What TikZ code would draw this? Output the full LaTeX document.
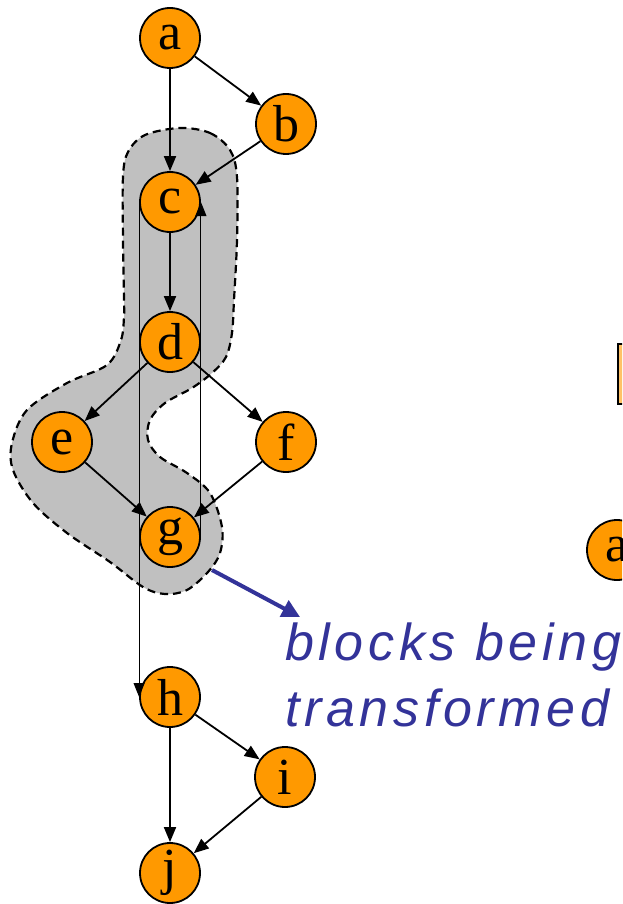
\documentclass[tikz,border=0pt]{standalone}
\usepackage{fontspec}
\setmainfont{Liberation Serif}
\newfontfamily\notefont[LetterSpace=9]{Liberation Sans}
\usetikzlibrary{arrows.meta}
\definecolor{nodeorange}{HTML}{FF9900}
\definecolor{boxorange}{HTML}{FFC266}
\definecolor{blobgray}{HTML}{C0C0C0}
\definecolor{noteblue}{HTML}{333399}
\tikzset{
  vtx/.style={circle, draw=black, line width=1.8pt, fill=nodeorange,
    minimum size=60pt, inner sep=0pt,
    font=\fontsize{52}{52}\selectfont},
  edge/.style={line width=1.8pt, -{Triangle[length=15pt,width=12pt]}},
  backedge/.style={line width=0.9pt, -{Triangle[length=14pt,width=11pt]}},
  region/.style={fill=blobgray, draw=black, line width=2.2pt,
    dash pattern=on 8pt off 5pt},
  pointer/.style={draw=noteblue, line width=4pt,
    -{Triangle[length=18pt,width=18pt]}},
  note/.style={text=noteblue, align=left, anchor=base west, inner sep=0pt,
    font=\notefont\itshape\fontsize{52}{66}\selectfont}
}
\begin{document}
\begin{tikzpicture}[x=1pt, y=-1pt]
\useasboundingbox (0,0) rectangle (622,904);
\clip (0,0) rectangle (622,904);

% region of blocks under transformation
\draw[region] plot[smooth cycle, tension=0.55] coordinates {
  (180,128) (210,133) (230,150) (237,177) (237,240) (234,300) (232,333)
  (226,357) (212,373) (192,388) (165,403) (150,420) (148,440) (160,457)
  (187,473) (210,493) (222,527) (220,553) (208,572) (187,590) (165,594)
  (143,587) (110,562) (67,533) (33,503) (13,470) (12,443) (27,410)
  (67,383) (107,365) (121,340) (124,317) (124,300) (123,240) (123,177)
  (128,152) (145,135)};

% control-flow graph
\node[vtx] (a) at (170,38)  {a};
\node[vtx] (b) at (286,124) {b};
\node[vtx] (c) at (170,202) {c};
\node[vtx] (d) at (170,342) {d};
\node[vtx] (e) at (62,442)  {e};
\node[vtx] (f) at (286,442) {f};
\node[vtx] (g) at (170,537) {g};
\node[vtx] (h) at (170,697) {h};
\node[vtx] (i) at (285,777) {i};
\node[vtx] (j) at (170,873) {j};

\draw[edge] (a) -- (b);
\draw[edge] (a) -- (c);
\draw[edge] (b) -- (c);
\draw[edge] (c) -- (d);
\draw[edge] (d) -- (e);
\draw[edge] (d) -- (f);
\draw[edge] (e) -- (g);
\draw[edge] (f) -- (g);
\draw[edge] (h) -- (i);
\draw[edge] (h) -- (j);
\draw[edge] (i) -- (j);
\draw[backedge] (c.west) -- (h.west);
\draw[backedge] (g.east) -- (c.east);

% annotation
\coordinate (tail) at (212,570);
\coordinate (tip) at (300,617);
\node[note] (label) at (285,726) {blocks being\\transformed};
\draw[pointer] (tail) -- (tip);

% next graph, at the right edge
\node[draw=black, line width=1.6pt, fill=boxorange, minimum width=40pt,
  minimum height=60pt, anchor=north west] (rbox) at (617,343) {};
\node[vtx] (ra) at (617,550) {a};
\coordinate (rin) at (650,460);
\draw[edge] (rin) -- (ra);
\end{tikzpicture}
\end{document}
